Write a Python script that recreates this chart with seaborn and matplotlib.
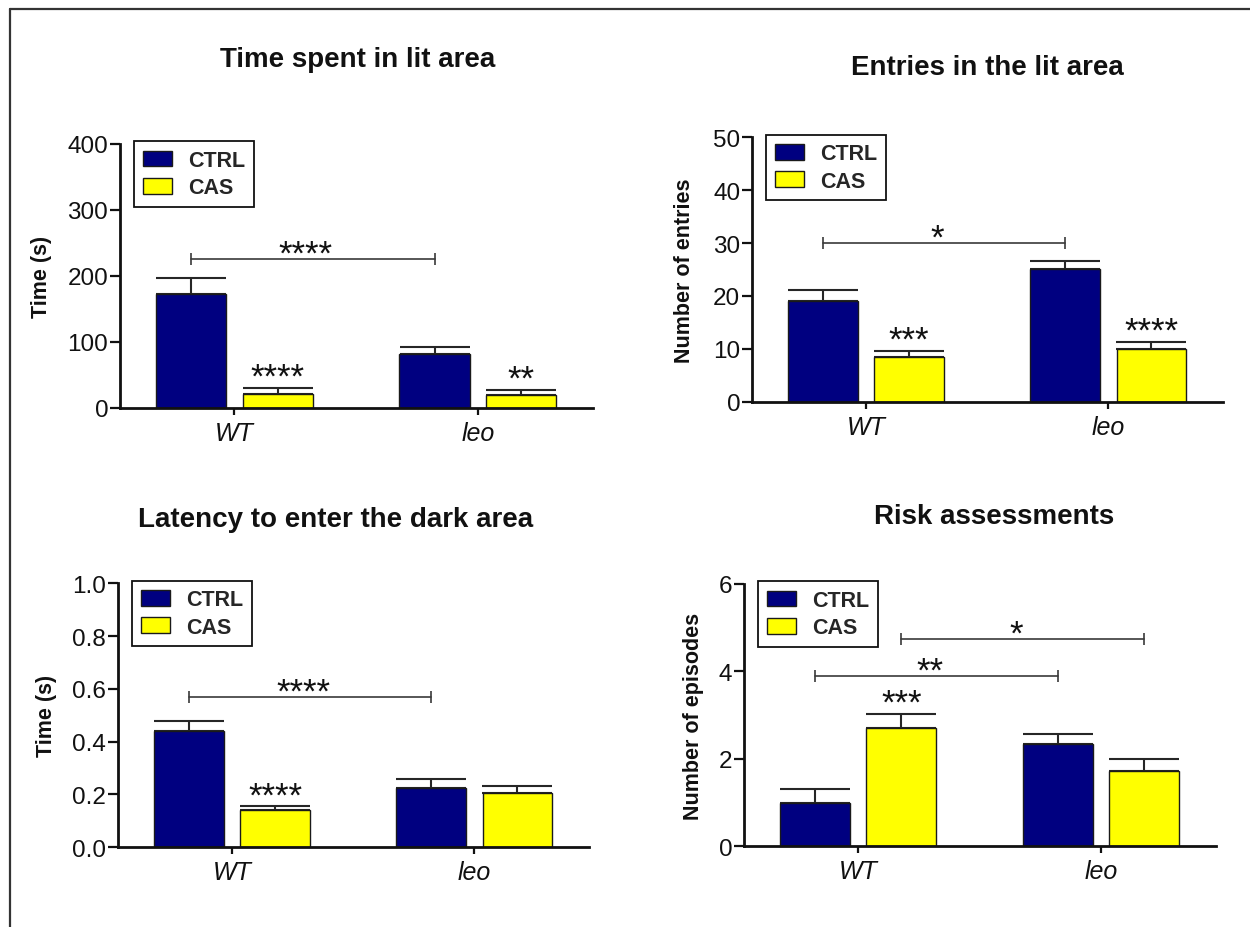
import matplotlib
matplotlib.use("Agg")
import matplotlib.pyplot as plt
from matplotlib.lines import Line2D
import pandas as pd
import seaborn as sns

# Groups and treatments
genotypes = ["WT", "leo"]
treatments = ["CTRL", "CAS"]
palette = {"CTRL": "#000080", "CAS": "#FFFF00"}

# Time spent in lit area (s): mean and SEM per genotype
lit_time_ctrl = [173, 82]
lit_time_cas = [21, 20]
lit_time_ctrl_sem = [24, 10]
lit_time_cas_sem = [10, 7.5]

# Entries in the lit area
lit_entries_ctrl = [19, 25]
lit_entries_cas = [8.4, 10]
lit_entries_ctrl_sem = [2.2, 1.6]
lit_entries_cas_sem = [1.25, 1.3]

# Latency to enter the dark area (s)
latency_ctrl = [0.44, 0.224]
latency_cas = [0.142, 0.205]
latency_ctrl_sem = [0.038, 0.034]
latency_cas_sem = [0.013, 0.028]

# Risk assessment episodes
risk_ctrl = [1.0, 2.33]
risk_cas = [2.71, 1.71]
risk_ctrl_sem = [0.32, 0.23]
risk_cas_sem = [0.32, 0.28]

# Significance marks above single bars: (genotype, treatment, stars)
lit_time_marks = [("WT", "CAS", "****"), ("leo", "CAS", "**")]
lit_entries_marks = [("WT", "CAS", "***"), ("leo", "CAS", "****")]
latency_marks = [("WT", "CAS", "****")]
risk_marks = [("WT", "CAS", "***")]

# Comparison brackets: (bar A, bar B, height, stars)
lit_time_brackets = [(("WT", "CTRL"), ("leo", "CTRL"), 225, "****")]
lit_entries_brackets = [(("WT", "CTRL"), ("leo", "CTRL"), 30, "*")]
latency_brackets = [(("WT", "CTRL"), ("leo", "CTRL"), 0.57, "****")]
risk_brackets = [(("WT", "CTRL"), ("leo", "CTRL"), 3.89, "**"),
                 (("WT", "CAS"), ("leo", "CAS"), 4.73, "*")]

sns.set_theme(style="ticks")
plt.rcParams["font.family"] = ["Liberation Sans", "DejaVu Sans"]

fig = plt.figure(figsize=(12.5, 9.28), dpi=100)

INK = "#111111"
STAR_FS = 25


def draw_panel(rect, title, title_pos, ylabel, ylabel_x, ylim, yticks, yfmt,
               ctrl, cas, ctrl_sem, cas_sem, marks, brackets):
    ax = fig.add_axes(rect)
    df = pd.DataFrame({
        "genotype": genotypes * 2,
        "treatment": [treatments[0]] * 2 + [treatments[1]] * 2,
        "value": list(ctrl) + list(cas),
    })
    sns.barplot(data=df, x="genotype", y="value", hue="treatment",
                order=genotypes, hue_order=treatments, palette=palette,
                saturation=1, errorbar=None, width=0.712, gap=0.19,
                edgecolor="#1a1a1a", linewidth=1.0, ax=ax, zorder=2)

    sems = {"CTRL": ctrl_sem, "CAS": cas_sem}
    bars = {}
    for container, t in zip(ax.containers, treatments):
        for patch, g, err in zip(container, genotypes, sems[t]):
            xc = patch.get_x() + patch.get_width() / 2
            h = patch.get_height()
            bars[(g, t)] = (xc, h, err)
            ax.errorbar([xc], [h], yerr=[[0], [err]], fmt="none",
                        ecolor="#262626", elinewidth=1.5, capsize=25,
                        capthick=1.5, zorder=1)

    # stars over single bars, placed above the error bar
    for g, t, s in marks:
        xc, h, err = bars[(g, t)]
        ax.annotate(s, xy=(xc, h + err), xytext=(0, 0.7),
                    textcoords="offset points", ha="center", va="baseline",
                    fontsize=STAR_FS, color=INK, annotation_clip=False)

    # comparison brackets
    for a, b, y, s in brackets:
        x1 = bars[a][0]
        x2 = bars[b][0]
        ax.plot([x1, x2], [y, y], color="#3a3a3a", lw=1.2, clip_on=False)
        ax.plot([x1, x2], [y, y], ls="none", marker="|", ms=9, mew=1.2,
                color="#3a3a3a", clip_on=False)
        ax.annotate(s, xy=((x1 + x2) / 2, y), xytext=(-5, -3.3),
                    textcoords="offset points", ha="center", va="baseline",
                    fontsize=STAR_FS, color=INK, annotation_clip=False)

    ax.set_xlim(-0.47, 1.473)
    ax.set_ylim(*ylim)
    ax.set_yticks(yticks)
    ax.set_yticklabels([yfmt.format(v) for v in yticks])
    ax.set_xlabel("")
    ax.set_ylabel(ylabel, fontsize=15.5, fontweight="bold", color=INK,
                  va="center")
    ax.yaxis.set_label_coords(ylabel_x, 0.5)

    sns.despine(ax=ax)
    for side in ("left", "bottom"):
        ax.spines[side].set_linewidth(2.0)
        ax.spines[side].set_color(INK)
    ax.tick_params(axis="y", length=7, width=1.6, pad=1.5, labelsize=17.5,
                   colors=INK)
    ax.tick_params(axis="x", length=5, width=1.6, pad=4.5, labelsize=18,
                   colors=INK)
    for lbl in ax.get_xticklabels():
        lbl.set_style("italic")

    handles = [c[0] for c in ax.containers]
    if ax.get_legend() is not None:
        ax.get_legend().remove()
    leg = ax.legend(handles, treatments, loc="upper left",
                    bbox_to_anchor=(0.03, 1.01), borderaxespad=0,
                    frameon=True, fancybox=False, framealpha=1,
                    edgecolor=INK, handlelength=1.35, handleheight=0.75,
                    handletextpad=0.75, labelspacing=0.3, borderpad=0.4,
                    prop={"weight": "bold", "size": 15.5})
    leg.get_frame().set_linewidth(1.3)

    ax.text(title_pos[0], title_pos[1], title, transform=ax.transAxes,
            ha="center", va="center", fontsize=20, fontweight="bold",
            color=INK)
    return ax


draw_panel([0.096, 0.5593, 0.3784, 0.2845], "Time spent in lit area",
           (0.503, 1.322), "Time (s)", -0.166, (0, 400),
           [0, 100, 200, 300, 400], "{:.0f}",
           lit_time_ctrl, lit_time_cas, lit_time_ctrl_sem, lit_time_cas_sem,
           lit_time_marks, lit_time_brackets)

draw_panel([0.6016, 0.5661, 0.3768, 0.2849], "Entries in the lit area",
           (0.5, 1.266), "Number of entries", -0.143, (0, 50),
           [0, 10, 20, 30, 40, 50], "{:.0f}",
           lit_entries_ctrl, lit_entries_cas, lit_entries_ctrl_sem,
           lit_entries_cas_sem, lit_entries_marks, lit_entries_brackets)

draw_panel([0.0944, 0.0862, 0.3768, 0.2842], "Latency to enter the dark area",
           (0.461, 1.244), "Time (s)", -0.151, (0, 1.0),
           [0.0, 0.2, 0.4, 0.6, 0.8, 1.0], "{:.1f}",
           latency_ctrl, latency_cas, latency_ctrl_sem, latency_cas_sem,
           latency_marks, latency_brackets)

draw_panel([0.5952, 0.0870, 0.3776, 0.2827], "Risk assessments",
           (0.53, 1.259), "Number of episodes", -0.108, (0, 6),
           [0, 2, 4, 6], "{:.0f}",
           risk_ctrl, risk_cas, risk_ctrl_sem, risk_cas_sem,
           risk_marks, risk_brackets)

# outer frame (left and top edges)
fig.add_artist(Line2D([0.008, 0.008], [0, 0.989], transform=fig.transFigure,
                      color="#333333", lw=1.6))
fig.add_artist(Line2D([0.008, 1.0], [0.989, 0.989], transform=fig.transFigure,
                      color="#333333", lw=1.6))

fig.savefig("out.png", dpi=100)
